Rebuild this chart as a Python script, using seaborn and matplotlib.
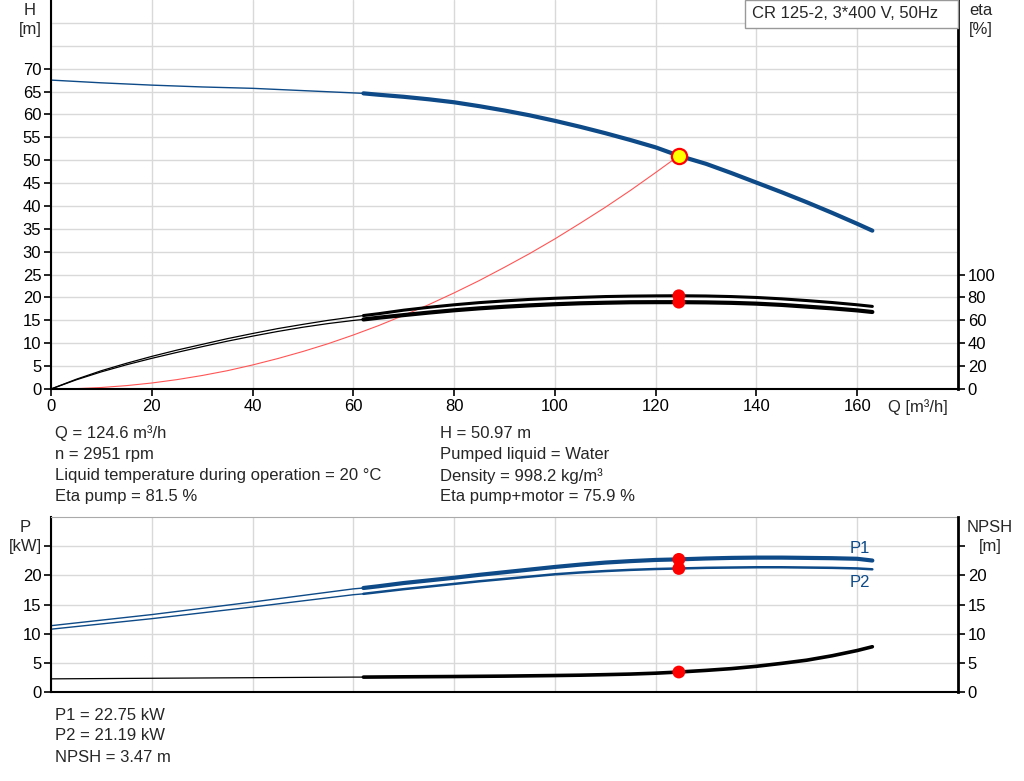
import matplotlib
matplotlib.use('Agg')
import matplotlib.pyplot as plt
from matplotlib.patches import Rectangle
import seaborn as sb

sb.set_style('white')
plt.rcParams['font.family'] = ['Liberation Sans', 'DejaVu Sans']

BLUE = '#0d4a87'
GRID = '#d9d9d9'

# duty point
duty_q = 124.6
duty_h = 50.97
eta_pump = 81.5
eta_total = 75.9
p1_duty = 22.75
p2_duty = 21.19
npsh_duty = 3.47

# head curve (thin = outside operating range)
q_h_thin = [0, 10, 20, 30, 40, 50, 60, 62]
h_thin = [67.5, 66.9, 66.4, 66.0, 65.7, 65.2, 64.7, 64.6]
q_main = [62, 65, 70, 75, 80, 85, 90, 95, 100, 105, 110, 115, 120, 124.6,
          130, 135, 140, 145, 150, 155, 160, 163]
h_main = [64.6, 64.3, 63.85, 63.3, 62.65, 61.8, 60.85, 59.8, 58.6, 57.3, 55.9,
          54.4, 52.8, 50.97, 49.2, 47.2, 45.1, 43.0, 40.8, 38.5, 36.1, 34.6]

# efficiency curves [%]
q_e_thin = [0, 5, 10, 15, 20, 25, 30, 35, 40, 45, 50, 55, 60, 62]
eta_p_thin = [0, 8.5, 16, 22.5, 28.5, 34, 39, 44, 48.5, 52.8, 56.5, 60, 63, 64.2]
eta_t_thin = [0, 8, 15, 21.2, 26.8, 32, 37, 41.8, 46.2, 50.3, 54, 57.2, 59.9, 60.8]
eta_p_main = [64.2, 65.8, 68.9, 71.4, 73.6, 75.5, 77.0, 78.3, 79.3, 80.1, 80.8,
              81.2, 81.4, 81.5, 81.3, 80.8, 80.0, 78.8, 77.3, 75.6, 73.6, 72.2]
eta_t_main = [60.8, 62.3, 64.6, 66.8, 68.8, 70.5, 71.9, 73.1, 74.1, 74.9, 75.4,
              75.8, 75.9, 75.9, 75.7, 75.3, 74.6, 73.5, 72.0, 70.5, 68.7, 67.3]

# system curve
q_sys = [0, 5, 10, 15, 20, 25, 30, 35, 40, 45, 50, 55, 60, 65, 70, 75, 80,
         85, 90, 95, 100, 105, 110, 115, 120, 124.6]
h_sys = [0, 0.08, 0.33, 0.74, 1.31, 2.05, 2.95, 4.0, 5.25, 6.65, 8.2, 9.9,
         11.8, 13.85, 16.1, 18.45, 21.0, 23.7, 26.6, 29.6, 32.8, 36.2, 39.7,
         43.4, 47.3, 50.97]

# power curves [kW]
q_p_thin = [0, 20, 40, 60, 62]
p1_thin = [11.4, 13.3, 15.45, 17.7, 17.85]
p2_thin = [10.8, 12.6, 14.6, 16.7, 16.85]
p1_main = [17.85, 18.15, 18.7, 19.15, 19.6, 20.1, 20.55, 21.0, 21.45, 21.85, 22.2,
           22.45, 22.65, 22.75, 22.9, 23.0, 23.05, 23.05, 23.0, 22.95, 22.85, 22.55]
p2_main = [16.85, 17.15, 17.65, 18.1, 18.55, 19.0, 19.4, 19.8, 20.2, 20.5, 20.75,
           20.95, 21.1, 21.19, 21.3, 21.35, 21.4, 21.4, 21.35, 21.3, 21.2, 21.05]

# NPSH [m]
npsh_thin = [2.3, 2.4, 2.5, 2.6, 2.6]
q_n_main = [62, 70, 80, 90, 100, 105, 110, 115, 120, 124.6, 130, 135, 140, 145,
            150, 155, 160, 163]
npsh_main = [2.6, 2.65, 2.7, 2.77, 2.87, 2.93, 3.02, 3.12, 3.27, 3.47, 3.75, 4.05,
             4.45, 4.95, 5.5, 6.25, 7.15, 7.8]

W, H = 1024, 781
fig = plt.figure(figsize=(W / 100, H / 100), dpi=100)
fig.patch.set_facecolor('white')

L, R = 51, 958
fs = 12


def style_axes(ax, tw):
    ax.set_xlim(0, 180)
    ax.set_xticks(range(0, 161, 20))
    ax.grid(which='both', color=GRID, lw=1)
    ax.set_axisbelow(True)
    ax.tick_params(axis='both', which='major', direction='out', length=5, width=1.2,
                   colors='black', labelsize=fs, left=True, bottom=True, pad=2)
    ax.tick_params(which='minor', length=0)
    for s in ['left', 'bottom']:
        ax.spines[s].set_color('black')
        ax.spines[s].set_linewidth(1.5)
    ax.spines['top'].set_color('#aaaaaa')
    ax.spines['right'].set_visible(False)
    ax.set_xlabel('')
    ax.set_ylabel('')
    for s in ['left', 'bottom', 'top']:
        tw.spines[s].set_visible(False)
    tw.spines['right'].set_color('black')
    tw.spines['right'].set_linewidth(2)
    tw.tick_params(axis='y', direction='out', length=5, width=1.2, colors='black',
                   labelsize=fs, right=True, pad=2)
    tw.set_ylabel('')


# ---------- top panel: H and eta ----------
ax_h = fig.add_axes([L / W, 1 - 389 / H, (R - L) / W, 389 / H])
ax_eta = ax_h.twinx()

sb.lineplot(x=q_sys, y=h_sys, ax=ax_h, color='#ff5555', lw=0.8)
sb.lineplot(x=q_h_thin, y=h_thin, ax=ax_h, color=BLUE, lw=1.0)
sb.lineplot(x=q_main, y=h_main, ax=ax_h, color=BLUE, lw=3)

sb.lineplot(x=q_e_thin, y=eta_p_thin, ax=ax_eta, color='black', lw=0.9)
sb.lineplot(x=q_e_thin, y=eta_t_thin, ax=ax_eta, color='black', lw=0.9)
sb.lineplot(x=q_main, y=eta_p_main, ax=ax_eta, color='black', lw=2.2)
sb.lineplot(x=q_main, y=eta_t_main, ax=ax_eta, color='black', lw=3)
sb.scatterplot(x=[duty_q, duty_q], y=[eta_pump, eta_total], ax=ax_eta,
               color='red', s=85, edgecolor='none', zorder=6)
sb.scatterplot(x=[duty_q], y=[duty_h], ax=ax_eta, transform=ax_h.transData,
               color='#ffff00', edgecolor='red', linewidth=1.6, s=120, zorder=7)

ax_h.set_ylim(0, 85)
ax_h.set_yticks(range(0, 71, 5))
ax_h.set_yticks([75, 80], minor=True)
ax_eta.set_ylim(0, 340)
ax_eta.set_yticks(range(0, 101, 20))
style_axes(ax_h, ax_eta)
ax_h.spines['top'].set_visible(False)
ax_eta.set_xlim(0, 180)

# ---------- bottom panel: P and NPSH ----------
ax_p = fig.add_axes([L / W, 1 - 692.3 / H, (R - L) / W, (692.3 - 517) / H])
ax_n = ax_p.twinx()

sb.lineplot(x=q_p_thin, y=p1_thin, ax=ax_p, color=BLUE, lw=1.0)
sb.lineplot(x=q_p_thin, y=p2_thin, ax=ax_p, color=BLUE, lw=1.0)
sb.lineplot(x=q_main, y=p1_main, ax=ax_p, color=BLUE, lw=3)
sb.lineplot(x=q_main, y=p2_main, ax=ax_p, color=BLUE, lw=1.8)
sb.scatterplot(x=[duty_q, duty_q], y=[p1_duty, p2_duty], ax=ax_p,
               color='red', s=85, edgecolor='none', zorder=6)

sb.lineplot(x=q_p_thin, y=npsh_thin, ax=ax_n, color='black', lw=0.9)
sb.lineplot(x=q_n_main, y=npsh_main, ax=ax_n, color='black', lw=2.6)
sb.scatterplot(x=[duty_q], y=[npsh_duty], ax=ax_n,
               color='red', s=85, edgecolor='none', zorder=6)

yt = [0, 5, 10, 15, 20, 25]
ylab = ['0', '5', '10', '15', '20', '']
ax_p.set_ylim(0, 30)
ax_p.set_yticks(yt)
ax_p.set_yticklabels(ylab)
ax_n.set_ylim(0, 30)
ax_n.set_yticks(yt)
ax_n.set_yticklabels(ylab)
style_axes(ax_p, ax_n)
ax_p.tick_params(axis='x', bottom=False, labelbottom=False)
ax_n.set_xlim(0, 180)

ax_p.text(160.5, 24.6, 'P1', color=BLUE, fontsize=fs, ha='center', va='center')
ax_p.text(160.5, 18.8, 'P2', color=BLUE, fontsize=fs, ha='center', va='center')

# ---------- axis titles ----------
fig.text(30 / W, 1 - 20 / H, 'H\n[m]', ha='center', va='center', fontsize=fs, linespacing=1.3)
fig.text(981 / W, 1 - 20 / H, 'eta\n[%]', ha='center', va='center', fontsize=fs, linespacing=1.3)
fig.text(888 / W, 1 - 407 / H, 'Q [m³/h]', ha='left', va='center', fontsize=fs)
fig.text(25 / W, 1 - 537 / H, 'P\n[kW]', ha='center', va='center', fontsize=fs, linespacing=1.3)
fig.text(990 / W, 1 - 537 / H, 'NPSH\n[m]', ha='center', va='center', fontsize=fs, linespacing=1.3)

# pump name box
fig.patches.append(Rectangle((745 / W, 1 - 28 / H), (R - 745) / W, 28 / H,
                             transform=fig.transFigure, facecolor='white',
                             edgecolor='#999999', lw=1, zorder=10))
fig.text(752 / W, 1 - 14 / H, 'CR 125-2, 3*400 V, 50Hz', ha='left', va='center',
         fontsize=fs, zorder=11)

# ---------- duty point info ----------
info_left = ['Q = 124.6 m³/h', 'n = 2951 rpm',
             'Liquid temperature during operation = 20 °C', 'Eta pump = 81.5 %']
info_right = ['H = 50.97 m', 'Pumped liquid = Water',
              'Density = 998.2 kg/m³', 'Eta pump+motor = 75.9 %']
info_bottom = ['P1 = 22.75 kW', 'P2 = 21.19 kW', 'NPSH = 3.47 m']
rows = [433, 454, 476, 497]
for y, a, b in zip(rows, info_left, info_right):
    fig.text(55 / W, 1 - y / H, a, ha='left', va='center', fontsize=fs)
    fig.text(440 / W, 1 - y / H, b, ha='left', va='center', fontsize=fs)
for y, a in zip([715, 736, 757], info_bottom):
    fig.text(55 / W, 1 - y / H, a, ha='left', va='center', fontsize=fs)

fig.savefig('out.png', dpi=100, facecolor='white')
